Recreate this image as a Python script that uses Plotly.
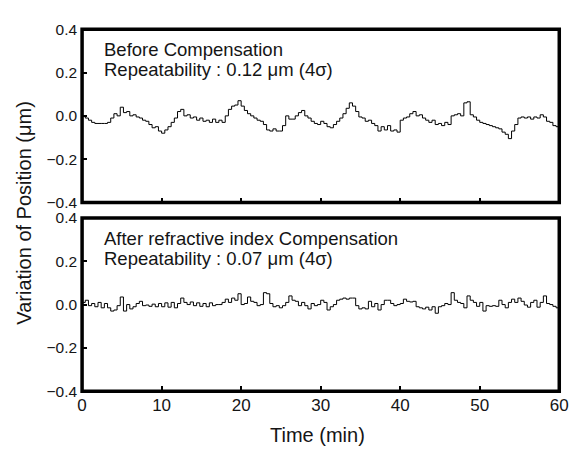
import plotly.graph_objects as go

# ---- data ----
step_min = 0.4  # sampling interval of the readings (minutes)

before_um = [
    0.00, -0.01, -0.02, -0.03, -0.035, -0.035, -0.035, -0.035, -0.03, -0.01,
    0.01, 0.0, 0.04, 0.015, 0.02, 0.0, 0.005, -0.005, -0.01, -0.02,
    -0.025, -0.04, -0.055, -0.05, -0.07, -0.08, -0.065, -0.05, -0.03, -0.01,
    0.02, 0.03, 0.0, 0.005, -0.01, -0.005, -0.02, -0.01, -0.025, -0.02,
    -0.03, -0.015, -0.03, -0.02, -0.03, 0.0, 0.03, 0.045, 0.05, 0.07,
    0.045, 0.025, 0.01, 0.0, -0.01, -0.02, -0.025, -0.04, -0.065, -0.07,
    -0.06, -0.07, -0.07, -0.045, 0.0, -0.015, -0.015, 0.0, 0.015, 0.025,
    0.0, -0.01, -0.025, -0.035, -0.04, -0.025, -0.035, -0.05, -0.055, -0.04,
    -0.025, -0.01, 0.01, 0.035, 0.06, 0.045, 0.02, -0.005, -0.01, -0.025,
    -0.02, -0.035, -0.045, -0.07, -0.05, -0.065, -0.045, -0.07, -0.065, -0.075,
    -0.02, -0.01, -0.005, 0.01, 0.02, 0.0, 0.005, -0.01, -0.02, -0.03,
    -0.02, -0.04, -0.035, -0.045, -0.03, -0.04, 0.0, 0.005, 0.01, 0.0,
    0.06, 0.065, 0.005, -0.005, -0.02, -0.03, -0.035, -0.04, -0.045, -0.05,
    -0.055, -0.06, -0.075, -0.085, -0.105, -0.07, -0.04, -0.01, -0.005, -0.01,
    -0.005, -0.015, -0.005, -0.01, 0.005, -0.005, -0.025, -0.03, -0.045, -0.05,
    -0.07,
]

after_um = [
    0.01, 0.02, -0.005, 0.005, -0.01, 0.01, -0.015, 0.005, -0.015, -0.03,
    -0.025, -0.005, 0.035, -0.03, 0.0, -0.02, -0.01, 0.005, 0.015, -0.005,
    -0.002, -0.008, 0.002, -0.01, 0.005, -0.01, 0.008, -0.012, 0.01, -0.015,
    0.005, 0.03, 0.01, 0.0, 0.012, -0.005, 0.008, -0.008, 0.005, -0.01,
    0.008, -0.005, 0.0, 0.0, 0.01, 0.025, 0.01, 0.03, 0.02, 0.05,
    0.0, 0.005, 0.035, 0.015, 0.01, -0.005, 0.0, 0.055, 0.05, 0.005,
    -0.01, -0.005, -0.015, -0.005, 0.01, 0.04, 0.02, 0.015, -0.005, 0.01,
    -0.005, -0.02, 0.005, -0.005, 0.0, 0.02, 0.01, -0.025, -0.01, 0.0,
    0.02, 0.025, 0.03, 0.025, 0.03, 0.03, -0.005, -0.02, -0.015, -0.02,
    0.015, -0.01, 0.005, -0.025, 0.0, 0.02, 0.02, 0.005, -0.005, 0.0,
    0.005, 0.025, 0.015, 0.012, 0.015, -0.01, -0.015, -0.02, -0.012, -0.025,
    -0.01, -0.04, -0.01, -0.005, 0.005, 0.0, 0.055, 0.02, 0.01, 0.005,
    -0.015, 0.04, 0.02, 0.01, -0.008, 0.01, -0.03, -0.005, -0.008, -0.005,
    -0.008, 0.02, 0.0, -0.015, 0.01, 0.025, 0.01, 0.03, 0.015, -0.002,
    -0.012, 0.01, 0.02, -0.012, 0.01, 0.04, 0.005, 0.0, -0.008, -0.015,
    -0.02,
]

time_min = [i * step_min for i in range(len(before_um))]

x_ticks = [0, 10, 20, 30, 40, 50, 60]
y_ticks = [-0.4, -0.2, 0.0, 0.2, 0.4]

top_labels = ["Before Compensation", "Repeatability : 0.12 μm (4σ)"]
bottom_labels = ["After refractive index Compensation", "Repeatability : 0.07 μm (4σ)"]

x_title = "Time (min)"
y_title = "Variation of Position (μm)"

# ---- figure ----
W, H = 579, 457
FONT = "Liberation Sans, Arial, sans-serif"
TXT = "#151515"

def px_x(p):
    return p / W

def px_y(p):
    return 1 - p / H

fig = go.Figure()
fig.add_trace(go.Scatter(x=time_min, y=before_um, mode="lines",
                         line=dict(color="black", width=1, shape="hv"),
                         xaxis="x", yaxis="y", showlegend=False))
fig.add_trace(go.Scatter(x=time_min, y=after_um, mode="lines",
                         line=dict(color="black", width=1, shape="hv"),
                         xaxis="x2", yaxis="y2", showlegend=False))

xdom = [px_x(79), px_x(568)]
ax_common = dict(range=[0, 60], tickvals=x_ticks, ticks="inside", ticklen=5,
                 tickwidth=2, tickcolor="black", showgrid=False, zeroline=False,
                 showline=False, domain=xdom,
                 tickfont=dict(family=FONT, size=17, color=TXT))
ay_common = dict(range=[-0.4, 0.4], tickvals=y_ticks, tickformat=".1f",
                 ticks="inside", ticklen=5, tickwidth=2, tickcolor="black",
                 showgrid=False, zeroline=False, showline=False,
                 ticklabelstandoff=4,
                 tickfont=dict(family=FONT, size=15.5, color=TXT))

fig.update_layout(
    width=W, height=H,
    margin=dict(l=0, r=0, t=0, b=0),
    paper_bgcolor="white", plot_bgcolor="white",
    xaxis=dict(anchor="y", showticklabels=False, **ax_common),
    xaxis2=dict(anchor="y2", showticklabels=True, ticklabelstandoff=2, **ax_common),
    yaxis=dict(anchor="x", domain=[px_y(201), px_y(21)], **ay_common),
    yaxis2=dict(anchor="x2", domain=[px_y(397), px_y(217)], **ay_common),
)

# frames
for xr, yr in (("x domain", "y domain"), ("x2 domain", "y2 domain")):
    fig.add_shape(type="rect", xref=xr, yref=yr, x0=0, x1=1, y0=0, y1=1,
                  line=dict(color="black", width=3.5), fillcolor="rgba(0,0,0,0)")

# in-panel texts
for labels, ys in ((top_labels, (42, 63)), (bottom_labels, (238, 259))):
    for txt, yp in zip(labels, ys):
        fig.add_annotation(text=txt, xref="paper", yref="paper",
                           x=px_x(99), y=px_y(yp), xanchor="left", yanchor="middle",
                           showarrow=False,
                           font=dict(family=FONT, size=18.5, color=TXT))

# axis titles
fig.add_annotation(text=x_title, xref="paper", yref="paper",
                   x=px_x(320), y=px_y(442), xanchor="center", yanchor="middle",
                   showarrow=False, font=dict(family=FONT, size=20, color=TXT))
fig.add_annotation(text=y_title, xref="paper", yref="paper",
                   x=px_x(20), y=px_y(212), xanchor="center", yanchor="middle",
                   textangle=-90, showarrow=False,
                   font=dict(family=FONT, size=20, color=TXT))

fig.write_html("out.html")
